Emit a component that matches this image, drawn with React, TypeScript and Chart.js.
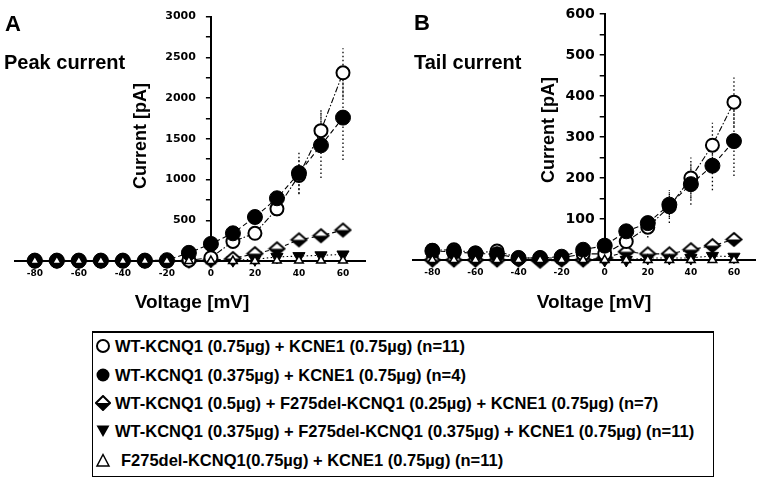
import React, { useEffect, useRef } from "react";
import { Chart, registerables } from "chart.js";

Chart.register(...registerables);

// ---------- data ----------
const voltages = [-80, -70, -60, -50, -40, -30, -20, -10, 0, 10, 20, 30, 40, 50, 60];
const xTickValues = [-80, -60, -40, -20, 0, 20, 40, 60];

// Panel A: peak current [pA]
const peakWT075 = [0, 0, 0, 0, 0, 0, 0, 10, 40, 240, 340, 640, 1050, 1600, 2310];
const peakWT075Err = [0, 0, 0, 0, 0, 0, 0, 0, 20, 40, 60, 90, 220, 260, 300];
const peakWT0375 = [5, 5, 5, 5, 5, 5, 10, 100, 210, 340, 540, 770, 1080, 1420, 1760];
const peakWT0375Err = [0, 0, 0, 0, 0, 0, 0, 10, 30, 50, 60, 90, 260, 400, 520];
const peakMix05 = [0, 0, 0, 0, 0, 0, 0, 0, 10, 30, 90, 150, 260, 310, 380];
const peakMix05Err = [0, 0, 0, 0, 0, 0, 0, 0, 0, 10, 20, 30, 40, 50, 60];
const peakMix0375 = [0, 0, 0, 0, 0, 0, 0, 0, 5, 10, 20, 50, 60, 70, 80];
const peakF275 = [0, 0, 0, 0, 0, 0, 0, 0, 0, 0, 0, 5, 5, 5, 5];

// Panel B: tail current [pA]
const tailWT075 = [24, 25, 17, 22, 5, 5, 5, 15, 15, 45, 80, 130, 200, 280, 385];
const tailWT075Err = [0, 0, 0, 0, 0, 0, 0, 0, 5, 15, 25, 40, 50, 55, 60];
const tailWT0375 = [22, 20, 16, 14, 5, 5, 8, 25, 35, 70, 90, 135, 185, 230, 290];
const tailWT0375Err = [0, 0, 0, 0, 0, 0, 0, 5, 10, 10, 20, 30, 50, 60, 85];
const tailMix05 = [0, 0, 0, 0, 0, -3, 0, 0, 5, 20, 15, 15, 25, 35, 50];
const tailMix05Err = [0, 0, 0, 0, 0, 0, 0, 0, 0, 0, 5, 5, 10, 10, 12];
const tailMix0375 = [0, 0, 0, 0, 0, 0, 0, 0, 0, 0, 5, 5, 5, 10, 8];
const tailF275 = [0, 0, 0, 0, 0, 0, 0, 0, 0, 0, 0, 0, 0, 0, 0];

const peakYLabels = [500, 1000, 1500, 2000, 2500, 3000];
const tailYLabels = [100, 200, 300, 400, 500, 600];

const legendLabels = [
  "WT-KCNQ1 (0.75µg) + KCNE1 (0.75µg) (n=11)",
  "WT-KCNQ1 (0.375µg) + KCNE1 (0.75µg) (n=4)",
  "WT-KCNQ1 (0.5µg) + F275del-KCNQ1 (0.25µg) + KCNE1 (0.75µg) (n=7)",
  "WT-KCNQ1 (0.375µg) + F275del-KCNQ1 (0.375µg) + KCNE1 (0.75µg) (n=11)",
  "F275del-KCNQ1(0.75µg) + KCNE1 (0.75µg) (n=11)",
];

// ---------- helpers ----------
function makeDiamond(w: number, h: number) {
  const c = document.createElement("canvas");
  c.width = w + 4;
  c.height = h + 4;
  const g = c.getContext("2d")!;
  const cx = c.width / 2;
  const cy = c.height / 2;
  const path = () => {
    g.beginPath();
    g.moveTo(cx, cy - h / 2);
    g.lineTo(cx + w / 2, cy);
    g.lineTo(cx, cy + h / 2);
    g.lineTo(cx - w / 2, cy);
    g.closePath();
  };
  path();
  g.fillStyle = "#fff";
  g.fill();
  g.beginPath();
  g.moveTo(cx - w / 2, cy);
  g.lineTo(cx + w / 2, cy);
  g.lineTo(cx, cy + h / 2);
  g.closePath();
  g.fillStyle = "#000";
  g.fill();
  path();
  g.lineWidth = 2;
  g.strokeStyle = "#000";
  g.stroke();
  return c;
}

type Panel = {
  series: number[][];
  errors: (number[] | null)[];
  yMax: number;
  yStep: number;
  yLabels: number[];
  padding: { left: number; right: number; top: number; bottom: number };
  yTickFont: number;
  yTickPad: number;
  xTickFont: number;
};

function buildConfig(p: Panel, diamond: HTMLCanvasElement): any {
  const styles: any[] = [
    { pointStyle: "circle", radius: 6.5, bg: "#fff", bw: 2, dash: [6, 2, 1.5, 2], order: 2, rot: 0 },
    { pointStyle: "circle", radius: 7.5, bg: "#000", bw: 1, dash: [5, 3], order: 1, rot: 0 },
    { pointStyle: diamond, radius: 8, bg: "#fff", bw: 0, dash: [4, 3], order: 3, rot: 0 },
    { pointStyle: "triangle", radius: 7, bg: "#000", bw: 1, dash: [1.5, 2.5], order: 4, rot: 180 },
    { pointStyle: "triangle", radius: 5, bg: "#fff", bw: 1.5, dash: [1, 3], order: 0, rot: 0 },
  ];
  const datasets = p.series.map((vals, si) => {
    const s = styles[si];
    return {
      label: legendLabels[si],
      data: voltages.map((v, i) => ({ x: v, y: vals[i] })),
      order: s.order,
      clip: false,
      borderColor: "#000",
      borderWidth: 1.1,
      borderDash: s.dash,
      fill: false,
      tension: 0,
      pointStyle: s.pointStyle,
      pointRadius: s.radius,
      pointRotation: s.rot,
      pointBackgroundColor: s.bg,
      pointBorderColor: "#000",
      pointBorderWidth: s.bw,
    };
  });

  const axisPlacement = {
    id: "axisPlacement",
    afterLayout(chart: any) {
      const xs = chart.scales.x;
      const ys = chart.scales.y;
      const px = xs.getPixelForValue(0);
      ys.left = px - 80;
      ys.right = px;
      ys.width = 80;
      xs.bottom = xs.top + 30;
      xs.height = 30;
    },
  };

  const errorBars = {
    id: "errorBars",
    beforeDatasetsDraw(chart: any) {
      const { ctx } = chart;
      const xs = chart.scales.x;
      const ys = chart.scales.y;
      ctx.save();
      ctx.strokeStyle = "#000";
      ctx.lineWidth = 1.3;
      ctx.setLineDash([1.5, 2.5]);
      p.errors.forEach((errs, si) => {
        if (!errs) return;
        const vals = p.series[si];
        voltages.forEach((v, i) => {
          const e = errs[i];
          if (!e) return;
          const px = xs.getPixelForValue(v);
          ctx.beginPath();
          ctx.moveTo(px, ys.getPixelForValue(vals[i] - e));
          ctx.lineTo(px, ys.getPixelForValue(vals[i] + e));
          ctx.stroke();
        });
      });
      ctx.restore();
    },
  };

  return {
    type: "line",
    data: { datasets },
    options: {
      animation: false,
      responsive: false,
      maintainAspectRatio: false,
      layout: { padding: p.padding },
      plugins: { legend: { display: false }, tooltip: { enabled: false }, title: { display: false } },
      scales: {
        x: {
          type: "linear",
          position: "bottom",
          min: -89,
          max: 70,
          afterFit: (s: any) => {
            s.height = 0;
          },
          afterBuildTicks: (s: any) => {
            s.ticks = xTickValues.map((v) => ({ value: v }));
          },
          grid: { drawOnChartArea: false, drawTicks: false, color: "#000" },
          border: { display: true, color: "#000", width: 2 },
          ticks: {
            autoSkip: false,
            maxRotation: 0,
            padding: 7,
            color: "#000",
            font: { family: '"DejaVu Sans", Arial, sans-serif', weight: "bold", size: p.xTickFont },
          },
        },
        y: {
          type: "linear",
          position: "left",
          min: 0,
          max: p.yMax,
          afterFit: (s: any) => {
            s.width = 0;
          },
          ticks: {
            stepSize: p.yStep,
            autoSkip: false,
            padding: p.yTickPad,
            color: "#000",
            font: { family: '"DejaVu Sans", Arial, sans-serif', weight: "bold", size: p.yTickFont },
            callback: (v: any) => (p.yLabels.includes(Number(v)) ? String(v) : ""),
          },
          grid: { drawOnChartArea: false, drawTicks: true, tickLength: 5, color: "#000", lineWidth: 1.5 },
          border: { display: true, color: "#000", width: 2 },
        },
      },
    },
    plugins: [axisPlacement, errorBars],
  };
}

// ---------- legend markers ----------
function Marker({ kind }: { kind: number }) {
  let shape: any = null;
  if (kind === 0) shape = <circle cx={8} cy={8} r={6} fill="#fff" stroke="#000" strokeWidth={2} />;
  if (kind === 1) shape = <circle cx={8} cy={8} r={6.5} fill="#000" />;
  if (kind === 2)
    shape = (
      <g>
        <polygon points="8,1 15,8 8,15 1,8" fill="#fff" />
        <polygon points="1,8 15,8 8,15" fill="#000" />
        <polygon points="8,1 15,8 8,15 1,8" fill="none" stroke="#000" strokeWidth={2} />
      </g>
    );
  if (kind === 3) shape = <polygon points="1.5,2.5 14.5,2.5 8,14" fill="#000" />;
  if (kind === 4) shape = <polygon points="8,2.5 14,14 2,14" fill="#fff" stroke="#000" strokeWidth={1.5} />;
  return (
    <svg width={16} height={16} viewBox="0 0 16 16" style={{ display: "block" }}>
      {shape}
    </svg>
  );
}

const textFont = 'Arial, "Liberation Sans", sans-serif';

export default function App() {
  const refA = useRef<HTMLCanvasElement>(null);
  const refB = useRef<HTMLCanvasElement>(null);

  useEffect(() => {
    const diamond = makeDiamond(15, 13);
    const panelA: Panel = {
      series: [peakWT075, peakWT0375, peakMix05, peakMix0375, peakF275],
      errors: [peakWT075Err, peakWT0375Err, peakMix05Err, null, null],
      yMax: 3000,
      yStep: 250,
      yLabels: peakYLabels,
      padding: { left: 15, right: 15, top: 14, bottom: 39 },
      yTickFont: 11,
      yTickPad: 10,
      xTickFont: 9,
    };
    const panelB: Panel = {
      series: [tailWT075, tailWT0375, tailMix05, tailMix0375, tailF275],
      errors: [tailWT075Err, tailWT0375Err, tailMix05Err, null, null],
      yMax: 600,
      yStep: 50,
      yLabels: tailYLabels,
      padding: { left: 33, right: 0, top: 14, bottom: 40 },
      yTickFont: 14,
      yTickPad: 5,
      xTickFont: 9,
    };
    const cA = new Chart(refA.current!, buildConfig(panelA, diamond));
    const cB = new Chart(refB.current!, buildConfig(panelB, diamond));
    return () => {
      cA.destroy();
      cB.destroy();
    };
  }, []);

  const abs = (extra: any) => ({ position: "absolute" as const, whiteSpace: "nowrap" as const, lineHeight: 1, ...extra });
  const rowCenters = [346, 375, 403, 431, 460];

  return (
    <div
      style={{
        position: "absolute",
        left: 0,
        top: 0,
        width: 764,
        height: 480,
        background: "#fff",
        overflow: "hidden",
        fontFamily: textFont,
        color: "#000",
      }}
    >
      <canvas ref={refA} width={380} height={300} style={{ position: "absolute", left: 0, top: 0, width: 380, height: 300 }} />
      <canvas ref={refB} width={384} height={300} style={{ position: "absolute", left: 380, top: 0, width: 384, height: 300 }} />

      <div style={abs({ left: 5, top: 13, fontSize: 22, fontWeight: "bold" })}>A</div>
      <div style={abs({ left: 4, top: 52, fontSize: 20, fontWeight: "bold" })}>Peak current</div>
      <div style={abs({ left: 414, top: 12, fontSize: 22, fontWeight: "bold" })}>B</div>
      <div style={abs({ left: 414, top: 52, fontSize: 20, fontWeight: "bold" })}>Tail current</div>

      <div style={abs({ left: 140, top: 136, fontSize: 18, fontWeight: "bold", transform: "translate(-50%,-50%) rotate(-90deg)" })}>
        Current [pA]
      </div>
      <div style={abs({ left: 548, top: 130, fontSize: 18, fontWeight: "bold", transform: "translate(-50%,-50%) rotate(-90deg)" })}>
        Current [pA]
      </div>
      <div style={abs({ left: 192, top: 301, fontSize: 19, fontWeight: "bold", transform: "translate(-50%,-50%)" })}>Voltage [mV]</div>
      <div style={abs({ left: 594, top: 301, fontSize: 19, fontWeight: "bold", transform: "translate(-50%,-50%)" })}>Voltage [mV]</div>

      <div
        style={{
          position: "absolute",
          left: 92,
          top: 331,
          width: 622,
          height: 146,
          borderTop: "2px solid #000",
          borderLeft: "1.5px solid #000",
          borderRight: "1.5px solid #000",
          borderBottom: "1.5px solid #000",
          boxSizing: "border-box",
        }}
      />
      {legendLabels.map((lab, i) => (
        <React.Fragment key={i}>
          <div style={{ position: "absolute", left: 95, top: rowCenters[i] - 8 }}>
            <Marker kind={i} />
          </div>
          <div style={abs({ left: i === 4 ? 121 : 115, top: rowCenters[i] - 8, fontSize: 16.5, fontWeight: "bold" })}>{lab}</div>
        </React.Fragment>
      ))}
    </div>
  );
}
